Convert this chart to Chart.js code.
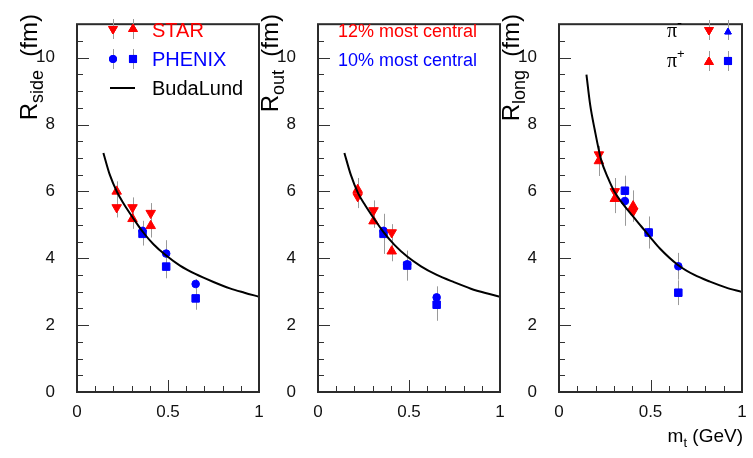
<!DOCTYPE html>
<html><head><meta charset="utf-8">
<script src="https://cdn.jsdelivr.net/npm/chart.js@4.4.0/dist/chart.umd.min.js"></script>
<style>
html,body{margin:0;padding:0;background:#fff;}
#wrap{position:relative;width:753px;height:458px;overflow:hidden;background:#fff;}
canvas{position:absolute;left:0;top:0;}
</style></head><body>
<div id="wrap">
<canvas id="c1" width="753" height="458"></canvas>
<canvas id="c2" width="753" height="458"></canvas>
<canvas id="c3" width="753" height="458"></canvas>
</div>
<script>
// ---------- data ----------
const mtStar = [0.218, 0.305, 0.405];
const mtPhenix = [0.36, 0.49, 0.652];

const rsideStarPim = [5.52, 5.52, 5.35];
const rsideStarPimErr = [0.3, 0.3, 0.3];
const rsideStarPip = [6.0, 5.18, 4.97];
const rsideStarPipErr = [0.3, 0.3, 0.35];
const rsidePhxPim = [4.82, 4.14, 3.23];
const rsidePhxPimErr = [0.3, 0.4, 0.15];
const rsidePhxPip = [4.73, 3.75, 2.80];
const rsidePhxPipErr = [0.35, 0.35, 0.34];

const routStarPim = [5.85, 5.43, 4.77];
const routStarPimErr = [0.35, 0.3, 0.25];
const routStarPip = [6.05, 5.11, 4.21];
const routStarPipErr = [0.35, 0.2, 0.3];
const routPhxPim = [4.82, 3.82, 2.83];
const routPhxPimErr = [0.45, 0.1, 0.33];
const routPhxPip = [4.73, 3.78, 2.61];
const routPhxPipErr = [0.6, 0.45, 0.48];

const rlongStarPim = [7.1, 6.0, 5.40];
const rlongStarPimErr = [0.15, 0.4, 0.23];
const rlongStarPip = [6.91, 5.78, 5.56];
const rlongStarPipErr = [0.45, 0.43, 0.47];
const rlongPhxPim = [5.71, 4.77, 3.76];
const rlongPhxPimErr = [0.74, 0.45, 0.4];
const rlongPhxPip = [6.02, 4.77, 2.97];
const rlongPhxPipErr = [0.45, 0.48, 0.37];

const budaMtSO = [0.145, 0.18, 0.22, 0.26, 0.306, 0.36, 0.42, 0.49, 0.566, 0.65, 0.75, 0.84, 0.92, 1.0];
const budaRside = [7.15, 6.5, 5.98, 5.6, 5.22, 4.8, 4.42, 4.08, 3.78, 3.53, 3.29, 3.1, 2.97, 2.85];
const budaRout = [7.15, 6.5, 5.95, 5.58, 5.2, 4.78, 4.4, 4.05, 3.76, 3.51, 3.28, 3.09, 2.96, 2.85];
const budaMtL = [0.15, 0.17, 0.195, 0.23, 0.267, 0.304, 0.35, 0.40, 0.45, 0.5, 0.55, 0.65, 0.74, 0.825, 0.91, 1.0];
const budaRlong = [9.49, 8.6, 7.85, 6.95, 6.41, 5.98, 5.62, 5.28, 4.95, 4.62, 4.3, 3.8, 3.5, 3.3, 3.13, 2.99];

const xTickLabels = ['0', '0.5', '1'];
const yTickLabels = ['0', '2', '4', '6', '8', '10'];

// ---------- helpers ----------
const RED = '#ff0000', BLUE = '#0000ff', BAR = '#9a9a9a';
const SANS = '"Liberation Sans", Arial, Helvetica, sans-serif';
const SERIF = '"Liberation Serif", "DejaVu Serif", serif';
const zip = (xs, ys) => xs.map((x, i) => ({x: x, y: ys[i]}));

function drawRich(ctx, parts, x, y, align) {
  let total = 0;
  parts.forEach(p => { ctx.font = (p.size) + 'px ' + (p.family || SANS); p.w = ctx.measureText(p.t).width; total += p.w; });
  let cx = align === 'right' ? x - total : (align === 'center' ? x - total / 2 : x);
  ctx.textAlign = 'left'; ctx.textBaseline = 'alphabetic';
  parts.forEach(p => {
    ctx.font = (p.size) + 'px ' + (p.family || SANS);
    ctx.fillStyle = p.color || '#000';
    ctx.fillText(p.t, cx, y + (p.dy || 0));
    cx += p.w;
  });
}

function marker(ctx, style, x, y, r, color, rot) {
  ctx.save();
  ctx.fillStyle = color; ctx.strokeStyle = color; ctx.lineWidth = 1;
  Chart.helpers.drawPoint(ctx, {pointStyle: style, radius: r, rotation: rot || 0, borderWidth: 1}, x, y);
  ctx.fill(); ctx.stroke();
  ctx.restore();
}
function vbar(ctx, x, y1, y2) {
  ctx.save(); ctx.strokeStyle = BAR; ctx.lineWidth = 1;
  ctx.beginPath(); ctx.moveTo(Math.round(x) + 0.5, y1); ctx.lineTo(Math.round(x) + 0.5, y2); ctx.stroke();
  ctx.restore();
}

const errorBarPlugin = {
  id: 'errbars',
  beforeDatasetsDraw(chart) {
    const {ctx, chartArea} = chart;
    const xs = chart.scales.x, ys = chart.scales.y;
    ctx.save();
    ctx.beginPath(); ctx.rect(chartArea.left, chartArea.top, chartArea.width, chartArea.height); ctx.clip();
    ctx.strokeStyle = BAR; ctx.lineWidth = 1;
    chart.data.datasets.forEach(ds => {
      if (!ds.yErr) return;
      ds.data.forEach((p, i) => {
        const e = ds.yErr[i];
        const px = Math.round(xs.getPixelForValue(p.x)) + 0.5;
        ctx.beginPath();
        ctx.moveTo(px, ys.getPixelForValue(p.y - e));
        ctx.lineTo(px, ys.getPixelForValue(p.y + e));
        ctx.stroke();
      });
    });
    ctx.restore();
  }
};

const decoPlugin = {
  id: 'deco',
  afterDraw(chart, args, opts) {
    const {ctx, chartArea: a} = chart;
    const xs = chart.scales.x, ys = chart.scales.y;
    ctx.save();
    // inward ticks
    ctx.strokeStyle = '#333'; ctx.lineWidth = 1;
    ctx.beginPath();
    for (let k = 0; k <= 22; k++) {
      const v = k * 0.5;
      const py = Math.round(ys.getPixelForValue(v)) + 0.5;
      const len = (k % 4 === 0) ? 12 : 6;
      ctx.moveTo(a.left, py); ctx.lineTo(a.left + len, py);
    }
    for (let k = 0; k <= 10; k++) {
      const v = k * 0.1;
      const px = Math.round(xs.getPixelForValue(v)) + 0.5;
      const len = (k % 5 === 0) ? 12 : 6;
      ctx.moveTo(px, a.bottom); ctx.lineTo(px, a.bottom - len);
    }
    ctx.stroke();
    // frame
    ctx.strokeStyle = '#2b2b2b'; ctx.lineWidth = 2;
    ctx.strokeRect(a.left, a.top, a.right - a.left, a.bottom - a.top);
    // x tick labels from the x scale
    xTickLabels.forEach(t => {
      drawRich(ctx, [{t: t, size: 17, color: '#111'}], xs.getPixelForValue(parseFloat(t)), a.bottom + 25, 'center');
    });
    // y title, rotated
    ctx.save();
    ctx.translate(a.left - 40, 14);
    ctx.rotate(-Math.PI / 2);
    drawRich(ctx, [
      {t: 'R', size: 24},
      {t: opts.sub, size: 18, dy: 6},
      {t: '  (fm)', size: 24}
    ], 0, 0, 'right');
    ctx.restore();
    if (opts.draw) opts.draw(ctx, a);
    ctx.restore();
  }
};

function makeChart(id, frameL, frameR, sub, series, curve, draw) {
  const [mtS, pim, pimE, pip, pipE, mtP, phm, phmE, php, phpE] = series;
  return new Chart(document.getElementById(id), {
    type: 'scatter',
    data: {
      datasets: [
        {label: 'BudaLund', data: zip(curve[0], curve[1]), showLine: true, borderColor: '#000', borderWidth: 2,
         pointRadius: 0, cubicInterpolationMode: 'monotone', fill: false},
        {label: 'STAR pi-', data: zip(mtS, pim), yErr: pimE, pointStyle: 'triangle', rotation: 180, pointRadius: 5.5,
         backgroundColor: RED, borderColor: RED, borderWidth: 1},
        {label: 'STAR pi+', data: zip(mtS, pip), yErr: pipE, pointStyle: 'triangle', pointRadius: 5.5,
         backgroundColor: RED, borderColor: RED, borderWidth: 1},
        {label: 'PHENIX pi-', data: zip(mtP, phm), yErr: phmE, pointStyle: 'circle', pointRadius: 3.8,
         backgroundColor: BLUE, borderColor: BLUE, borderWidth: 1},
        {label: 'PHENIX pi+', data: zip(mtP, php), yErr: phpE, pointStyle: 'rect', pointRadius: 5.3,
         backgroundColor: BLUE, borderColor: BLUE, borderWidth: 1}
      ]
    },
    options: {
      responsive: false, animation: false, devicePixelRatio: 1,
      layout: {padding: {left: frameL - 40, right: 753 - frameR, top: 11, bottom: 36}},
      plugins: {legend: {display: false}, tooltip: {enabled: false}, title: {display: false},
                deco: {sub: sub, draw: draw}},
      scales: {
        x: {type: 'linear', min: 0, max: 1,
            grid: {display: false}, border: {display: false},
            afterFit: s => { s.height = 30; },
            ticks: {display: false}},
        y: {type: 'linear', min: 0, max: 11,
            grid: {display: false}, border: {display: false},
            afterFit: s => { s.width = 40; },
            afterBuildTicks: s => { s.ticks = yTickLabels.map(t => ({value: parseFloat(t)})); },
            ticks: {autoSkip: false, padding: 14, color: '#111',
                    font: {family: SANS, size: 17},
                    callback: v => yTickLabels.find(t => Math.abs(parseFloat(t) - v) < 1e-6) || ''}}
      }
    },
    plugins: [errorBarPlugin, decoPlugin]
  });
}

makeChart('c1', 77, 259, 'side',
  [mtStar, rsideStarPim, rsideStarPimErr, rsideStarPip, rsideStarPipErr, mtPhenix, rsidePhxPim, rsidePhxPimErr, rsidePhxPip, rsidePhxPipErr],
  [budaMtSO, budaRside],
  (ctx) => {
    vbar(ctx, 113, 19, 39); vbar(ctx, 133, 19, 39);
    marker(ctx, 'triangle', 113, 29, 5, RED, 180);
    marker(ctx, 'triangle', 133, 29, 5, RED, 0);
    drawRich(ctx, [{t: 'STAR', size: 20, color: RED}], 152, 37, 'left');
    vbar(ctx, 113, 49, 69); vbar(ctx, 133, 49, 69);
    marker(ctx, 'circle', 113, 59, 3.6, BLUE);
    marker(ctx, 'rect', 133, 59, 5, BLUE);
    drawRich(ctx, [{t: 'PHENIX', size: 20, color: BLUE}], 152, 66, 'left');
    ctx.strokeStyle = '#000'; ctx.lineWidth = 2;
    ctx.beginPath(); ctx.moveTo(110, 88); ctx.lineTo(135, 88); ctx.stroke();
    drawRich(ctx, [{t: 'BudaLund', size: 20, color: '#000'}], 152, 95, 'left');
  });

makeChart('c2', 318, 500, 'out',
  [mtStar, routStarPim, routStarPimErr, routStarPip, routStarPipErr, mtPhenix, routPhxPim, routPhxPimErr, routPhxPip, routPhxPipErr],
  [budaMtSO, budaRout],
  (ctx) => {
    drawRich(ctx, [{t: '12% most central', size: 18, color: RED}], 338, 37, 'left');
    drawRich(ctx, [{t: '10% most central', size: 18, color: BLUE}], 338, 66, 'left');
  });

makeChart('c3', 559, 742, 'long',
  [mtStar, rlongStarPim, rlongStarPimErr, rlongStarPip, rlongStarPipErr, mtPhenix, rlongPhxPim, rlongPhxPimErr, rlongPhxPip, rlongPhxPipErr],
  [budaMtL, budaRlong],
  (ctx) => {
    drawRich(ctx, [{t: 'π', size: 20, family: SERIF}, {t: '-', size: 15, dy: -9}], 667, 37, 'left');
    drawRich(ctx, [{t: 'π', size: 20, family: SERIF}, {t: '+', size: 13, dy: -9}], 667, 67, 'left');
    vbar(ctx, 709, 20, 40); vbar(ctx, 728, 20, 40);
    marker(ctx, 'triangle', 709, 30, 5, RED, 180);
    marker(ctx, 'triangle', 728, 32, 3.8, BLUE, 0);
    vbar(ctx, 709, 51, 71); vbar(ctx, 728, 51, 71);
    marker(ctx, 'triangle', 709, 62, 5, RED, 0);
    marker(ctx, 'rect', 728, 61, 5, BLUE);
    drawRich(ctx, [{t: 'm', size: 19}, {t: 't', size: 13, dy: 5}, {t: ' (GeV)', size: 19}], 743, 442, 'right');
  });
</script>
</body></html>
